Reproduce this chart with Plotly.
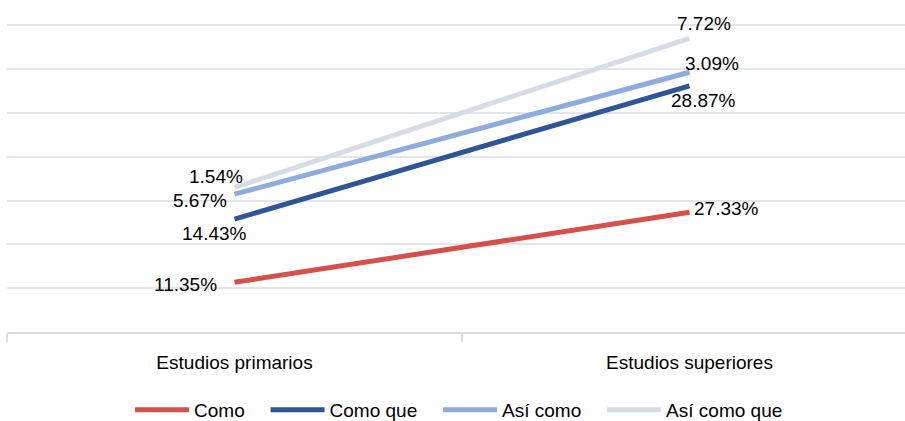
import plotly.graph_objects as go

categories = ["Estudios primarios", "Estudios superiores"]
series_names = ["Como", "Como que", "Así como", "Así como que"]
como = [11.35, 27.33]
como_que = [14.43, 28.87]
asi_como = [5.67, 3.09]
asi_como_que = [1.54, 7.72]
colors = ["#D6504B", "#2F5597", "#8FAADC", "#D6DCE5"]

# label offsets (px) for each series at each category
label_shifts = [
    [(-49, -2), (37, 4)],
    [(-20, -14), (14, -15)],
    [(-35, -6), (22, 9)],
    [(-19, 11), (14, 15)],
]

FONT = "Liberation Sans, Arial, sans-serif"
FSIZE = 19
PAD = "\u00a0" * 3  # extra room after each legend entry

values = [como, como_que, asi_como, asi_como_que]
x = [0, 1]

fig = go.Figure()
running = [0.0, 0.0]
annotations = []
for name, vals, color, shifts in zip(series_names, values, colors, label_shifts):
    running = [r + v for r, v in zip(running, vals)]
    fig.add_trace(go.Scatter(
        x=x, y=running, mode="lines", name=name + PAD,
        line=dict(color=color, width=5),
    ))
    for xi, yi, v, (dx, dy) in zip(x, running, vals, shifts):
        annotations.append(dict(
            x=xi, y=yi, xref="x", yref="y", text=f"{v:.2f}%",
            showarrow=False, xshift=dx, yshift=dy,
            font=dict(family=FONT, size=FSIZE, color="#000000"),
        ))

fig.update_layout(
    width=905, height=421,
    margin=dict(l=7, r=0, t=24, b=89, autoexpand=False),
    paper_bgcolor="white", plot_bgcolor="white",
    showlegend=True,
    legend=dict(
        orientation="h", x=0.137, xanchor="left", y=-0.253, yanchor="middle",
        font=dict(family=FONT, size=FSIZE, color="#000000"),
        traceorder="normal", itemwidth=54,
    ),
    annotations=annotations,
    xaxis=dict(
        tickmode="array", tickvals=x, ticktext=categories,
        range=[-0.5, -0.5 + 898 / 455],
        showgrid=False, zeroline=False,
        showline=True, linecolor="#D9DDE3", linewidth=2,
        tickfont=dict(family=FONT, size=FSIZE, color="#000000"),
        ticklabelstandoff=12,
    ),
    yaxis=dict(
        range=[0, 70.3], dtick=10, showticklabels=False,
        showgrid=True, gridcolor="#E2E6EC", gridwidth=2,
        zeroline=False, showline=False,
    ),
)

# boundary tick marks between categories
fig.update_xaxes(minor=dict(tickmode="array", tickvals=[-0.5, 0.5, 1.5],
                            ticks="outside", ticklen=8, tickcolor="#D9DDE3",
                            tickwidth=2, showgrid=False))

fig.write_html("out.html")
